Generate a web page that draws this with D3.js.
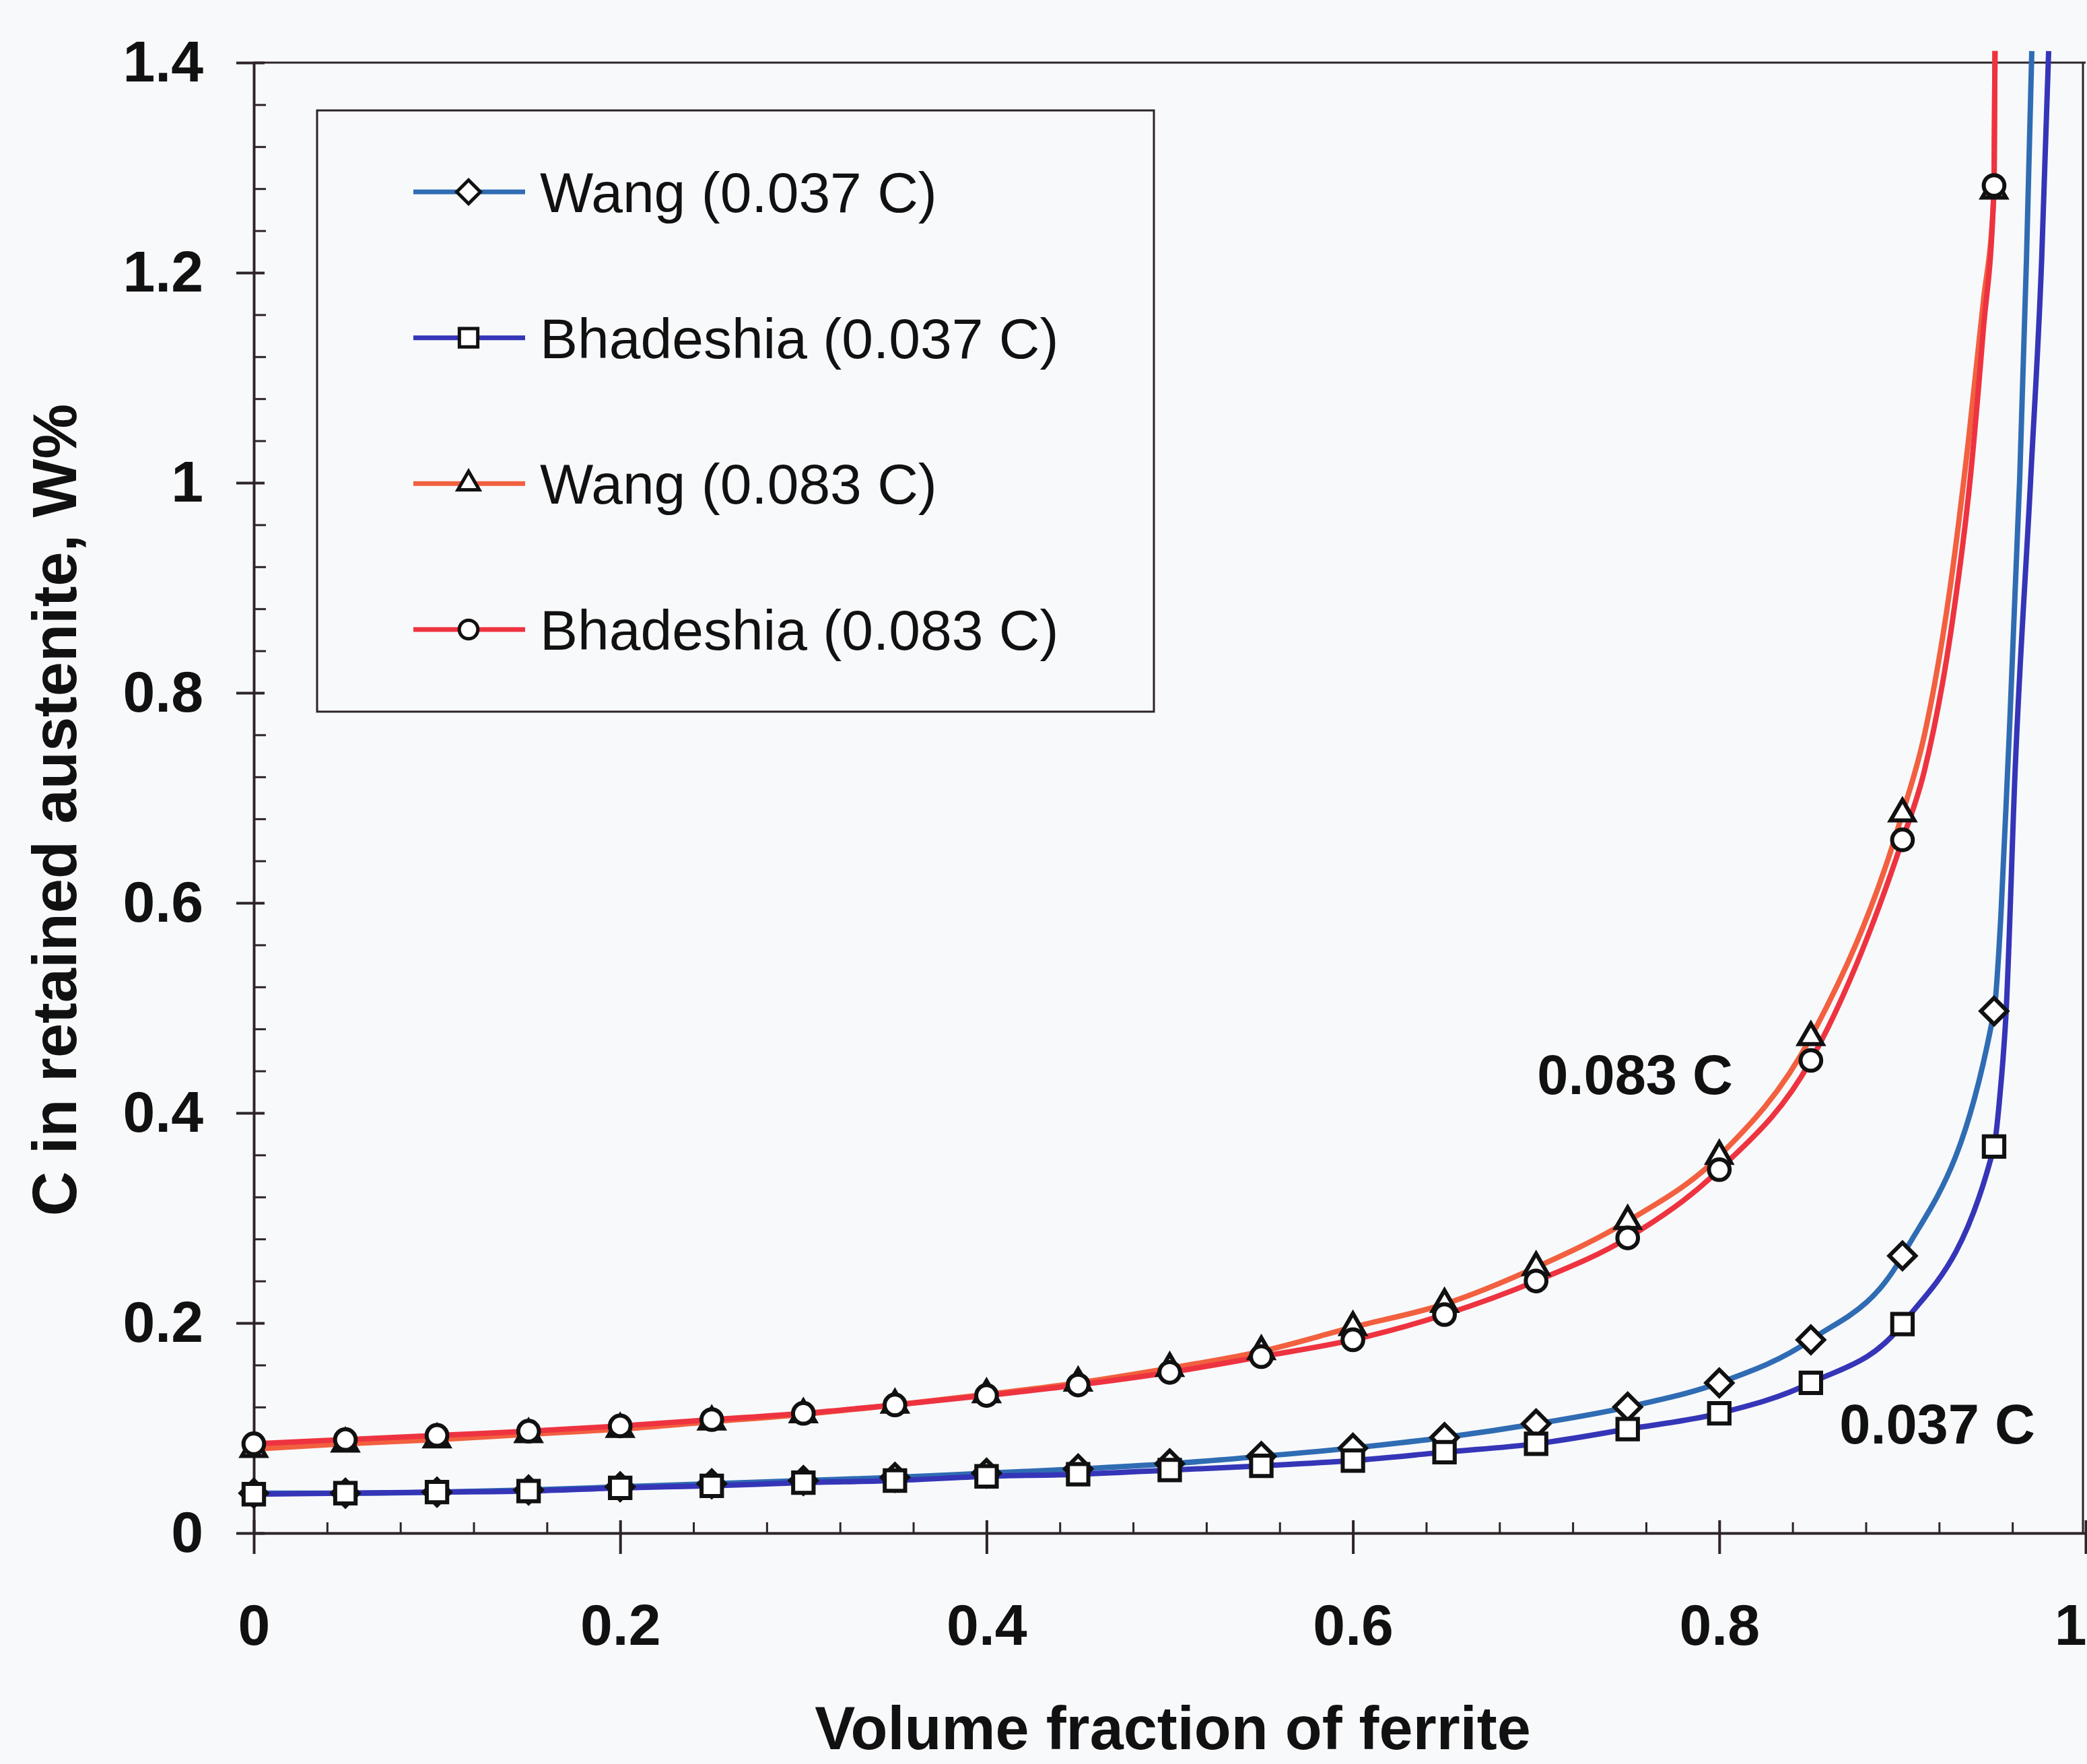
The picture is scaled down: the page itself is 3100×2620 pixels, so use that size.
<!DOCTYPE html>
<html>
<head>
<meta charset="utf-8">
<script src="https://cdn.jsdelivr.net/npm/d3@7"></script>
<style>
  html, body { margin: 0; padding: 0; background: #f8f9fb; }
  svg { display: block; }
  text { font-family: "Liberation Sans", Arial, Helvetica, sans-serif; fill: #111; }
</style>
</head>
<body>
<script>
// Volume fraction of ferrite at which model points are marked
const ferriteFraction = [0, 0.05, 0.1, 0.15, 0.2, 0.25, 0.3, 0.35, 0.4, 0.45,
                         0.5, 0.55, 0.6, 0.65, 0.7, 0.75, 0.8, 0.85, 0.9, 0.95];

// Carbon in retained austenite (wt%) at each marked fraction
const wang037 = [0.038, 0.038, 0.039, 0.041, 0.044, 0.047, 0.050, 0.053, 0.057, 0.061,
                 0.066, 0.073, 0.081, 0.091, 0.104, 0.120, 0.143, 0.184, 0.264, 0.497];
const bhadeshia037 = [0.037, 0.038, 0.039, 0.040, 0.043, 0.045, 0.048, 0.050, 0.054, 0.056,
                      0.060, 0.064, 0.069, 0.077, 0.085, 0.099, 0.114, 0.143, 0.199, 0.368];
const wang083 = [0.080, 0.085, 0.089, 0.094, 0.099, 0.106, 0.113, 0.122, 0.132, 0.143,
                 0.157, 0.173, 0.196, 0.218, 0.253, 0.297, 0.359, 0.472, 0.685, 1.278];
const bhadeshia083 = [0.085, 0.089, 0.093, 0.097, 0.102, 0.108, 0.114, 0.122, 0.131, 0.141,
                      0.153, 0.168, 0.184, 0.208, 0.240, 0.281, 0.346, 0.450, 0.660, 1.283];

// Extra curve points [fraction, wt%] in the steep part where carbon piles up
const wang037Tail = [[0.9537, 0.587], [0.9574, 0.726], [0.964, 1.004], [0.9677, 1.213], [0.9706, 1.411]];
const bhadeshia037Tail = [[0.953, 0.413], [0.9566, 0.497], [0.9615, 0.726], [0.970, 1.004], [0.976, 1.213], [0.9798, 1.411]];
const wang083Tail = [[0.912, 0.76], [0.926, 0.90], [0.936, 1.04], [0.944, 1.17], [0.9505, 1.411]];
const bhadeshia083Tail = [[0.912, 0.726], [0.927, 0.865], [0.937, 1.004], [0.944, 1.143], [0.9505, 1.411]];

const seriesNames = ["Wang (0.037 C)", "Bhadeshia (0.037 C)", "Wang (0.083 C)", "Bhadeshia (0.083 C)"];

const xTicks = [0, 0.2, 0.4, 0.6, 0.8, 1];
const xTickLabels = ["0", "0.2", "0.4", "0.6", "0.8", "1"];
const yTicks = [0, 0.2, 0.4, 0.6, 0.8, 1, 1.2, 1.4];
const yTickLabels = ["0", "0.2", "0.4", "0.6", "0.8", "1", "1.2", "1.4"];

const xTitle = "Volume fraction of ferrite";
const yTitle = "C in retained austenite, W%";
const curveLabels = [
  { text: "0.083 C", x: 0.754, y: 0.418 },
  { text: "0.037 C", x: 0.919, y: 0.085 }
];

// ---- layout ----
const W = 3100, H = 2620;
const axisColor = "#2d2428";
const svg = d3.select("body").append("svg").attr("width", W).attr("height", H);
svg.append("rect").attr("width", W).attr("height", H).attr("fill", "#f8f9fb");

const x = d3.scaleLinear().domain([0, 1]).range([377, 3098]);
const y = d3.scaleLinear().domain([0, 1.4]).range([2277, 93]);

const series = [
  { name: seriesNames[0], values: wang037, tail: wang037Tail, color: "#2f6cb3", symbol: "diamond" },
  { name: seriesNames[1], values: bhadeshia037, tail: bhadeshia037Tail, color: "#3535b8", symbol: "square" },
  { name: seriesNames[2], values: wang083, tail: wang083Tail, color: "#f2603f", symbol: "triangle" },
  { name: seriesNames[3], values: bhadeshia083, tail: bhadeshia083Tail, color: "#ee3340", symbol: "circle" }
];

function symbolPath(kind, scale) {
  const s = scale || 1;
  if (kind === "diamond") return d3.symbol(d3.symbolSquare, 760 * s * s)();
  if (kind === "square") return d3.symbol(d3.symbolSquare, 920 * s * s)();
  if (kind === "triangle") return d3.symbol(d3.symbolTriangle, 540 * s * s)();
  return d3.symbol(d3.symbolCircle, 740 * s * s)();
}
function symbolRotation(kind) { return kind === "diamond" ? 45 : 0; }

// ---- frame: top and right borders ----
svg.append("line").attr("x1", x(0)).attr("x2", x(1)).attr("y1", y(1.4)).attr("y2", y(1.4))
  .attr("stroke", axisColor).attr("stroke-width", 3);
svg.append("line").attr("x1", x(1) - 4).attr("x2", x(1) - 4).attr("y1", y(1.4)).attr("y2", y(0))
  .attr("stroke", axisColor).attr("stroke-width", 3);

// ---- axes ----
const tickFont = g => g.selectAll("text")
  .style("font-family", "'Liberation Sans', Arial, sans-serif")
  .style("font-weight", "bold").style("font-size", "86px").attr("fill", "#111");
const styleAxis = g => {
  g.selectAll("path.domain").attr("stroke", axisColor).attr("stroke-width", 4);
  g.selectAll(".tick line").attr("stroke", axisColor).attr("stroke-width", 4);
};

const minorY = d3.range(0, 1.4001, 0.04).filter(v => Math.abs(v / 0.2 - Math.round(v / 0.2)) > 1e-6);
const minorX = d3.range(0, 1.0001, 0.04).filter(v => Math.abs(v / 0.2 - Math.round(v / 0.2)) > 1e-6);

// y axis: major ticks cross the line, minor ticks point inward
const yAxisOut = svg.append("g").attr("transform", `translate(${x(0)},0)`)
  .call(d3.axisLeft(y).tickValues(yTicks).tickSize(26).tickSizeOuter(0).tickPadding(49)
    .tickFormat((d, i) => yTickLabels[i]));
styleAxis(yAxisOut); tickFont(yAxisOut);
const yAxisIn = svg.append("g").attr("transform", `translate(${x(0)},0)`)
  .call(d3.axisRight(y).tickValues(yTicks).tickSize(16).tickFormat(""));
yAxisIn.select("path.domain").remove(); styleAxis(yAxisIn);
const yAxisMinor = svg.append("g").attr("transform", `translate(${x(0)},0)`)
  .call(d3.axisRight(y).tickValues(minorY).tickSize(18).tickFormat(""));
yAxisMinor.select("path.domain").remove(); styleAxis(yAxisMinor);
yAxisMinor.selectAll(".tick line").attr("stroke-width", 3);

// x axis
const xAxisOut = svg.append("g").attr("transform", `translate(0,${y(0)})`)
  .call(d3.axisBottom(x).tickValues(xTicks).tickSize(31).tickSizeOuter(0).tickPadding(74)
    .tickFormat((d, i) => xTickLabels[i]));
styleAxis(xAxisOut); tickFont(xAxisOut);
// the label at the right end sits flush with the page edge
xAxisOut.selectAll(".tick text").filter(d => d === 1).attr("text-anchor", "end").attr("x", 1);
const xAxisIn = svg.append("g").attr("transform", `translate(0,${y(0)})`)
  .call(d3.axisTop(x).tickValues(xTicks).tickSize(19).tickFormat(""));
xAxisIn.select("path.domain").remove(); styleAxis(xAxisIn);
const xAxisMinor = svg.append("g").attr("transform", `translate(0,${y(0)})`)
  .call(d3.axisTop(x).tickValues(minorX).tickSize(16).tickFormat(""));
xAxisMinor.select("path.domain").remove(); styleAxis(xAxisMinor);
xAxisMinor.selectAll(".tick line").attr("stroke-width", 3);

// ---- curves ----
const line = d3.line().x(d => x(d[0])).y(d => y(d[1])).curve(d3.curveMonotoneX);
series.forEach(s => {
  const pts = ferriteFraction.map((f, i) => [f, s.values[i]]).concat(s.tail)
    .sort((a, b) => a[0] - b[0]);
  svg.append("path").datum(pts).attr("d", line)
    .attr("fill", "none").attr("stroke", s.color).attr("stroke-width", 8)
    .attr("stroke-linejoin", "round").attr("stroke-linecap", "butt");
});

// ---- markers ----
series.forEach(s => {
  svg.append("g").selectAll("path")
    .data(ferriteFraction.map((f, i) => [f, s.values[i]]))
    .join("path")
    .attr("d", symbolPath(s.symbol))
    .attr("transform", d => `translate(${x(d[0])},${y(d[1])}) rotate(${symbolRotation(s.symbol)})`)
    .attr("fill", "#fff").attr("stroke", "#111").attr("stroke-width", 6);
});

// ---- curve annotations ----
curveLabels.forEach(l => {
  svg.append("text").attr("x", x(l.x)).attr("y", y(l.y))
    .attr("text-anchor", "middle").style("font-weight", "bold").style("font-size", "83px")
    .text(l.text);
});

// ---- axis titles ----
svg.append("text").attr("x", 1742).attr("y", 2598).attr("text-anchor", "middle")
  .style("font-weight", "bold").style("font-size", "90px").text(xTitle);
svg.append("text").attr("transform", "translate(113,1203) rotate(-90)").attr("text-anchor", "middle")
  .style("font-weight", "bold").style("font-size", "92px").text(yTitle);

// ---- legend ----
const legend = svg.append("g");
legend.append("rect").attr("x", 471).attr("y", 164).attr("width", 1243).attr("height", 893)
  .attr("fill", "#f8f9fb").attr("stroke", axisColor).attr("stroke-width", 3);
const rowY = d3.scalePoint().domain(seriesNames).range([285, 935]);
series.forEach(s => {
  const cy = rowY(s.name);
  legend.append("line").attr("x1", 614).attr("x2", 780).attr("y1", cy).attr("y2", cy)
    .attr("stroke", s.color).attr("stroke-width", 7);
  legend.append("path").attr("d", symbolPath(s.symbol, 0.9))
    .attr("transform", `translate(696,${cy}) rotate(${symbolRotation(s.symbol)})`)
    .attr("fill", "#fff").attr("stroke", "#111").attr("stroke-width", 5);
  legend.append("text").attr("x", 802).attr("y", cy + 30)
    .style("font-size", "84px").text(s.name);
});
</script>
</body>
</html>
